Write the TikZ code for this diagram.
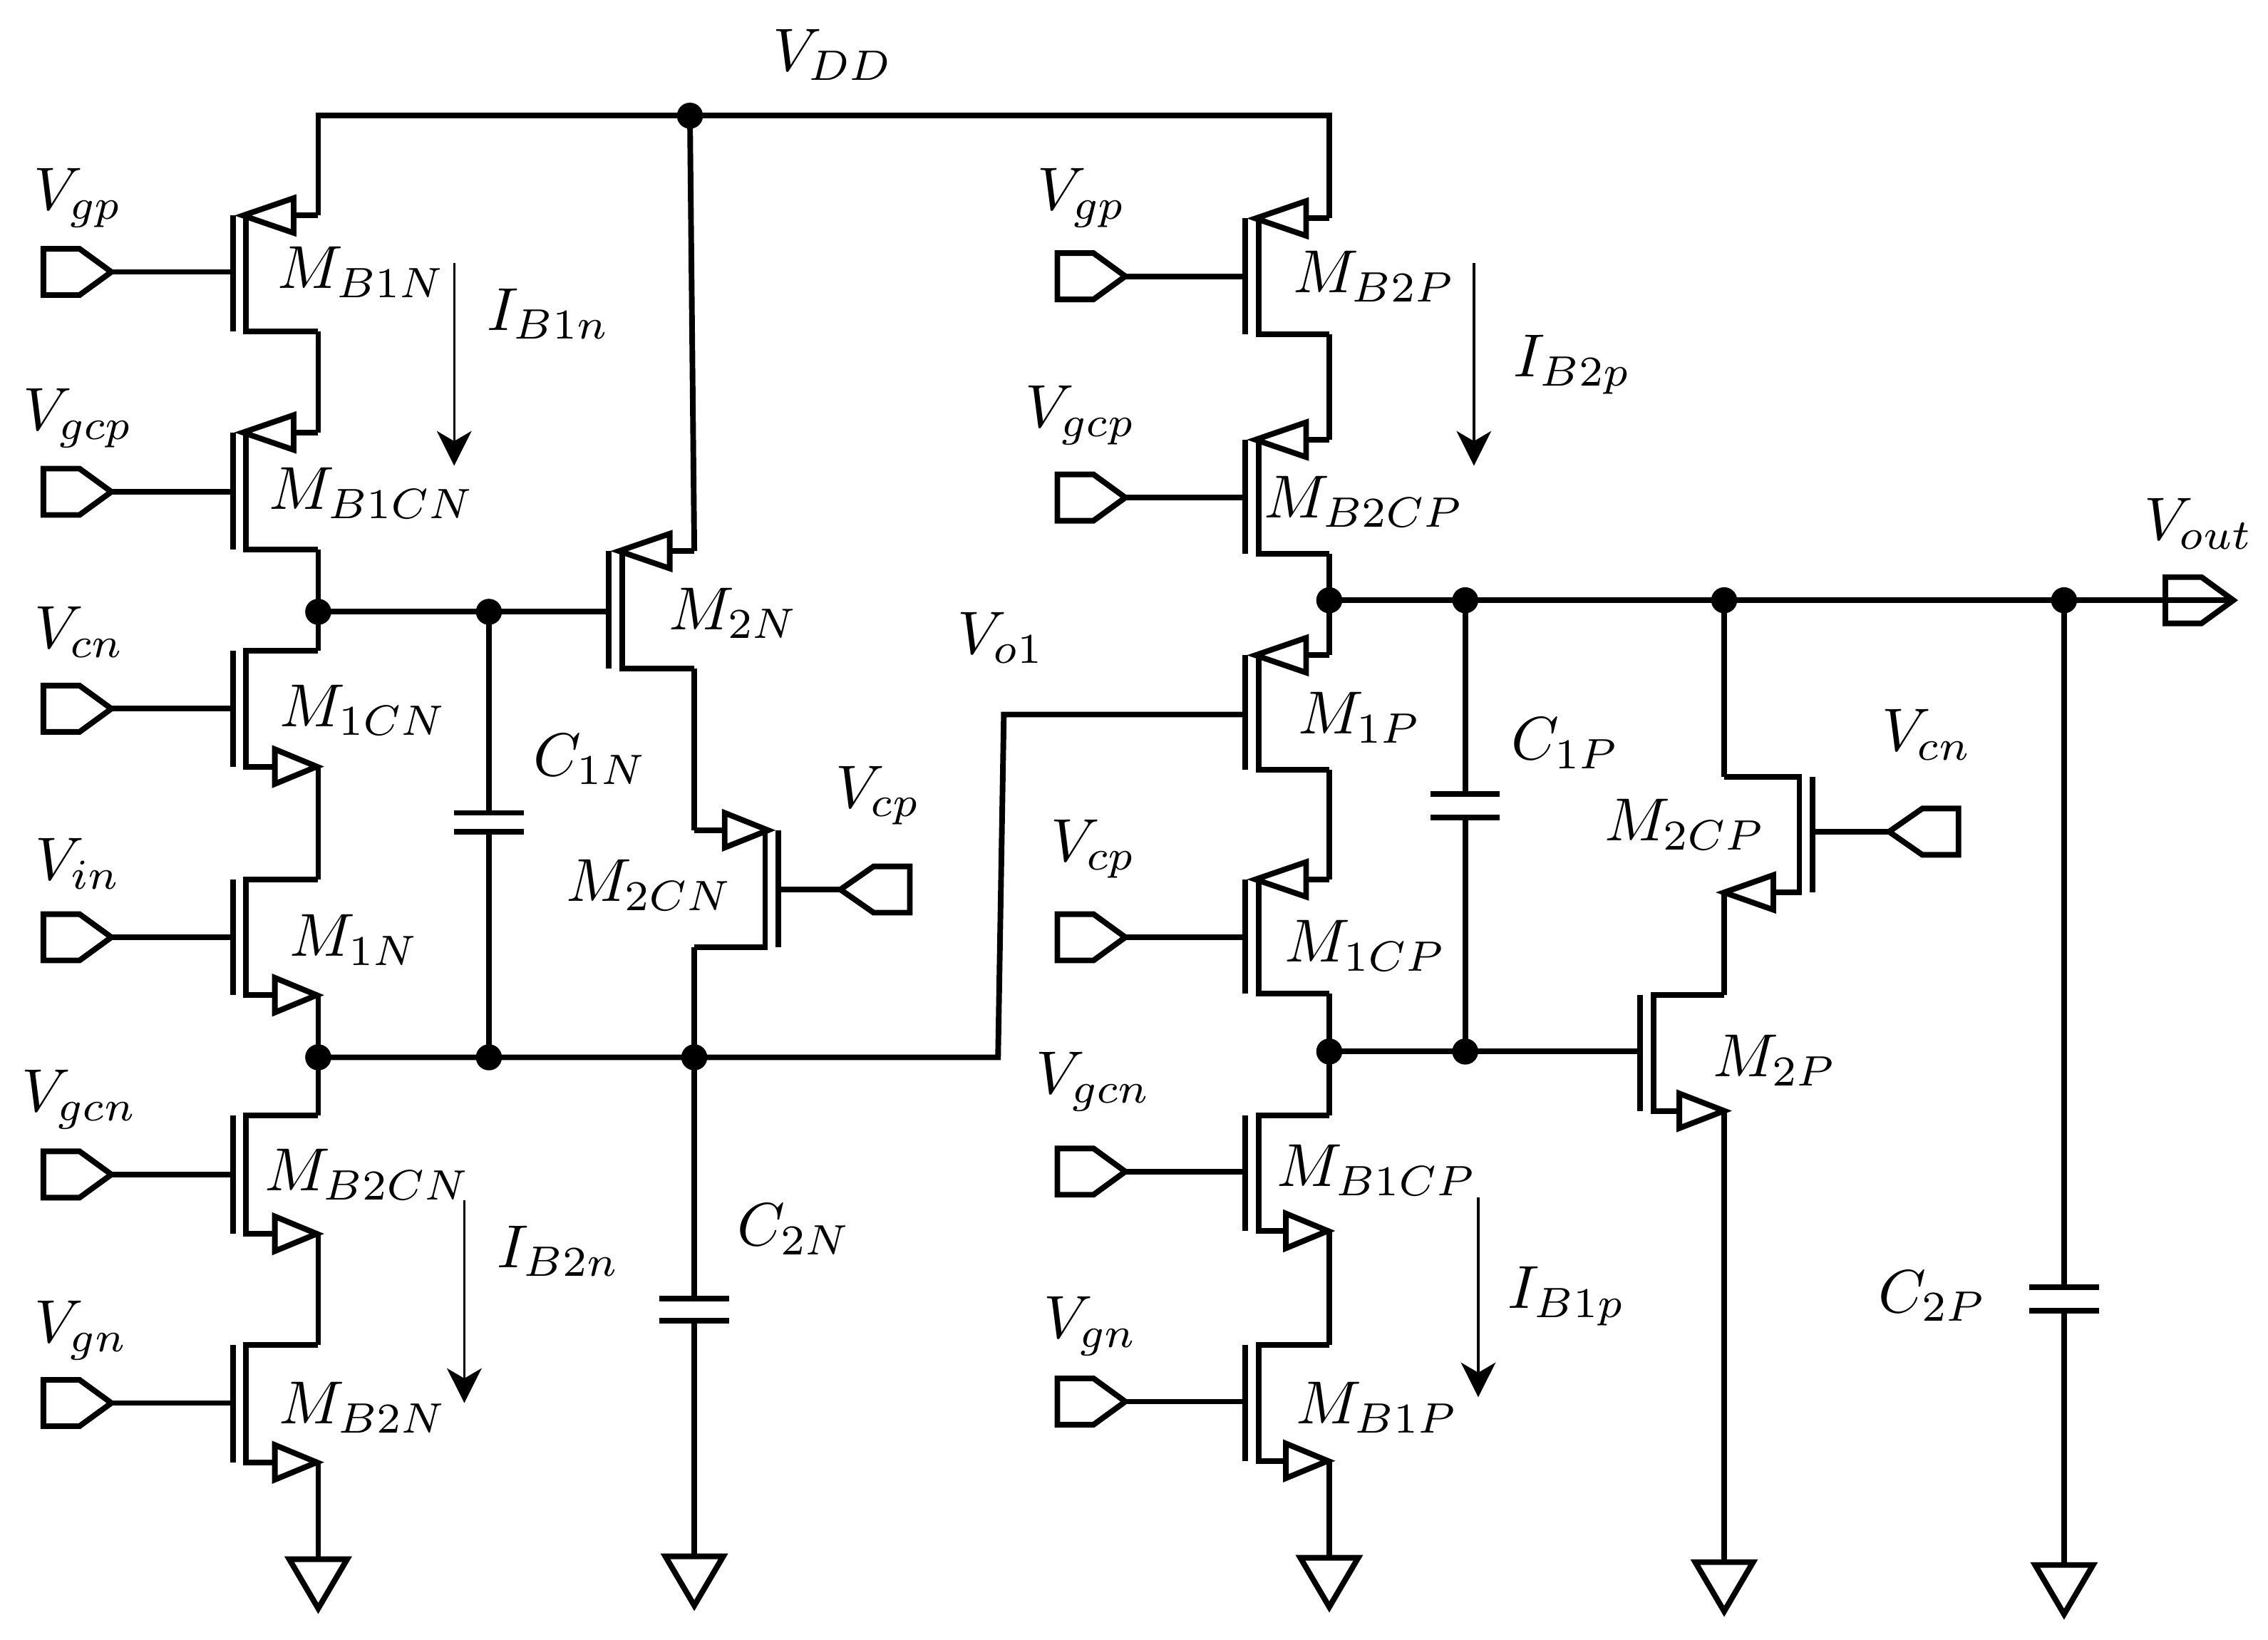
\documentclass[tikz,border=0pt]{standalone}
\usetikzlibrary{arrows.meta}
\tikzset{
  x=1pt,y=-1pt,
  wire/.style={line width=3.9pt,line join=miter,line cap=butt,draw=black},
  tri/.style={line width=3.9pt,line join=miter,draw=black,fill=white},
  dot/.style={circle,fill=black,inner sep=0pt,minimum size=18pt},
  lab/.style={scale=4.2,inner sep=0pt,xshift=0.5pt},
  cur/.style={line width=1.6pt,-{Stealth[length=24pt,width=24pt,inset=7pt]}}
}
% name, bar x, channel x, wire x, top y, bottom y, gate y
\newcommand{\fetbody}[7]{%
  \coordinate (#1-d) at (#4,#5);
  \coordinate (#1-s) at (#4,#6);
  \coordinate (#1-g) at (#2,#7);
  \draw[wire] (#2,#5) -- (#2,#6);
  \draw[wire] (#4,#5) -- (#3,#5) -- (#3,#6) -- (#4,#6);
}
% tip x, base x, y
\newcommand{\fetarrow}[3]{\draw[tri] (#1,#3) -- (#2,#3-12) -- (#2,#3+12) -- cycle;}
% pin pointing right: name, left x, y ; tip at left x + 47
\newcommand{\pinright}[3]{%
  \coordinate (#1) at (#2+47,#3);
  \draw[tri] (#2,#3-16) -- (#2+25,#3-16) -- (#2+47,#3) -- (#2+25,#3+16) -- (#2,#3+16) -- cycle;
}
% pin pointing left: name, tip x, y
\newcommand{\pinleft}[3]{%
  \coordinate (#1) at (#2,#3);
  \draw[tri] (#2,#3) -- (#2+23,#3-16) -- (#2+48,#3-16) -- (#2+48,#3+16) -- (#2+23,#3+16) -- cycle;
}
% capacitor: name, x, y1, y2
\newcommand{\capac}[4]{%
  \coordinate (#1-t) at (#2,#3);
  \coordinate (#1-b) at (#2,#4);
  \draw[wire] (#2-24,#3) -- (#2+24,#3);
  \draw[wire] (#2-24,#4) -- (#2+24,#4);
}
% ground: name, x, y
\newcommand{\gndsym}[3]{%
  \coordinate (#1) at (#2,#3);
  \draw[tri] (#2-20,#3) -- (#2+20,#3) -- (#2,#3+34) -- cycle;
}
\begin{document}
\begin{tikzpicture}
\useasboundingbox (0,0) rectangle (1568,1133.4);
% junctions
\node[dot] (vdd) at (477,80) {};
\node[dot] (a1) at (220,423) {};
\node[dot] (a2) at (338,423) {};
\node[dot] (b1) at (220,731) {};
\node[dot] (b2) at (338,731) {};
\node[dot] (b3) at (480,731) {};
\node[dot] (o1) at (919,415) {};
\node[dot] (o2) at (1013,415) {};
\node[dot] (o3) at (1192,415) {};
\node[dot] (o4) at (1427,415) {};
\node[dot] (c1) at (919,727) {};
\node[dot] (c2) at (1013,727) {};
\coordinate (tl) at (220,80);
\coordinate (tr) at (919,80);
\coordinate (k1) at (690,731);
\coordinate (k2) at (694,494);
% transistors
\fetbody{MBaN}{161}{170}{220}{149}{229}{188}\fetarrow{168}{203}{149}
\fetbody{MBaCN}{161}{170}{220}{299}{380}{340}\fetarrow{168}{203}{299}
\fetbody{MaCN}{161}{170}{220}{450}{530}{490}\fetarrow{219}{190}{530}
\fetbody{MaN}{161}{170}{220}{608}{688}{648}\fetarrow{219}{190}{688}
\fetbody{MBbCN}{161}{170}{220}{771}{853}{812}\fetarrow{219}{190}{853}
\fetbody{MBbN}{161}{170}{220}{930}{1011}{970}\fetarrow{219}{190}{1011}
\fetbody{MbN}{421}{430}{480}{381}{462}{423}\fetarrow{428}{463}{381}
\fetbody{MbCN}{538}{529}{480}{574}{655}{615}\fetarrow{531}{501}{574}
\fetbody{MBbP}{861}{870}{919}{151}{231}{191}\fetarrow{868}{903}{151}
\fetbody{MBbCP}{861}{870}{919}{304}{383}{344}\fetarrow{868}{903}{304}
\fetbody{MaP}{861}{870}{919}{453}{532}{494}\fetarrow{868}{903}{453}
\fetbody{MaCP}{861}{870}{919}{608}{687}{648}\fetarrow{868}{903}{608}
\fetbody{MBaCP}{861}{870}{919}{771}{851}{810}\fetarrow{918}{889}{851}
\fetbody{MBaP}{861}{870}{919}{930}{1010}{969}\fetarrow{918}{889}{1010}
\fetbody{MbCP}{1253}{1244}{1192}{537}{617}{575}\fetarrow{1192}{1226}{617}
\fetbody{MbP}{1134}{1143}{1192}{688}{768}{727}\fetarrow{1192}{1161}{768}
% pins
\pinright{pa}{30}{188}\pinright{pb}{30}{340}\pinright{pc}{30}{490}
\pinright{pd}{30}{648}\pinright{pe}{30}{812}\pinright{pf}{30}{970}
\pinright{qa}{731}{191}\pinright{qb}{731}{344}\pinright{qd}{731}{648}
\pinright{qe}{731}{810}\pinright{qf}{731}{969}
\pinleft{rcp}{581}{615}
\pinleft{rcn}{1306}{575}
\pinright{pout}{1497}{415}
% capacitors
\capac{Ca}{338}{562}{575}
\capac{Cb}{480}{898}{913}
\capac{Cc}{1013}{549}{565}
\capac{Cd}{1427}{890}{906}
% grounds
\gndsym{ga}{220}{1078}
\gndsym{gb}{480}{1076}
\gndsym{gc}{919}{1077}
\gndsym{gd}{1192}{1080}
\gndsym{ge}{1427}{1082}
% connectors
\draw[wire] (MBaN-d) -- (tl) -- (vdd.center) -- (tr) -- (MBbP-d);
\draw[wire] (vdd.center) -- (MbN-d);
\draw[wire] (MBaN-s) -- (MBaCN-d);
\draw[wire] (MBaCN-s) -- (a1.center) -- (MaCN-d);
\draw[wire] (MaCN-s) -- (MaN-d);
\draw[wire] (MaN-s) -- (b1.center) -- (MBbCN-d);
\draw[wire] (MBbCN-s) -- (MBbN-d);
\draw[wire] (MBbN-s) -- (ga);
\draw[wire] (a1.center) -- (a2.center) -- (MbN-g);
\draw[wire] (a2.center) -- (Ca-t);
\draw[wire] (Ca-b) -- (b2.center);
\draw[wire] (b1.center) -- (b2.center) -- (b3.center) -- (k1) -- (k2) -- (MaP-g);
\draw[wire] (MbN-s) -- (MbCN-d);
\draw[wire] (MbCN-s) -- (b3.center) -- (Cb-t);
\draw[wire] (Cb-b) -- (gb);
\draw[wire] (MBbP-s) -- (MBbCP-d);
\draw[wire] (MBbCP-s) -- (o1.center) -- (MaP-d);
\draw[wire] (MaP-s) -- (MaCP-d);
\draw[wire] (MaCP-s) -- (c1.center) -- (MBaCP-d);
\draw[wire] (MBaCP-s) -- (MBaP-d);
\draw[wire] (MBaP-s) -- (gc);
\draw[wire] (o1.center) -- (o2.center) -- (o3.center) -- (o4.center) -- (pout);
\draw[wire] (o2.center) -- (Cc-t);
\draw[wire] (Cc-b) -- (c2.center);
\draw[wire] (c1.center) -- (c2.center) -- (MbP-g);
\draw[wire] (o3.center) -- (MbCP-d);
\draw[wire] (MbCP-s) -- (MbP-d);
\draw[wire] (MbP-s) -- (gd);
\draw[wire] (o4.center) -- (Cd-t);
\draw[wire] (Cd-b) -- (ge);
\foreach \p/\g in {pa/MBaN,pb/MBaCN,pc/MaCN,pd/MaN,pe/MBbCN,pf/MBbN,qa/MBbP,qb/MBbCP,qd/MaCP,qe/MBaCP,qf/MBaP,rcp/MbCN,rcn/MbCP}
  \draw[wire] (\p) -- (\g-g);
% current arrows
\coordinate (ia1) at (314,182); \coordinate (ia2) at (314,322);
\coordinate (ib1) at (321,830); \coordinate (ib2) at (321,970);
\coordinate (ic1) at (1019,182); \coordinate (ic2) at (1019,322);
\coordinate (id1) at (1022,828); \coordinate (id2) at (1022,966);
\draw[cur] (ia1) -- (ia2);
\draw[cur] (ib1) -- (ib2);
\draw[cur] (ic1) -- (ic2);
\draw[cur] (id1) -- (id2);
% labels
\node[lab] (l1) at (574,38) {$V_{DD}$};
\node[lab] (l2) at (52,137) {$V_{gp}$};
\node[lab] (l3) at (52,289) {$V_{gcp}$};
\node[lab] (l4) at (53,437) {$V_{cn}$};
\node[lab] (l5) at (52,597) {$V_{in}$};
\node[lab] (l6) at (53,760) {$V_{gcn}$};
\node[lab] (l7) at (54,920) {$V_{gn}$};
\node[lab] (l8) at (248,188) {$M_{B1N}$};
\node[lab] (l9) at (255,341) {$M_{B1CN}$};
\node[lab] (l10) at (249,491) {$M_{1CN}$};
\node[lab] (l11) at (243,650) {$M_{1N}$};
\node[lab] (l12) at (252,812) {$M_{B2CN}$};
\node[lab] (l13) at (249,973) {$M_{B2N}$};
\node[lab] (l14) at (377,217) {$I_{B1n}$};
\node[lab] (l15) at (384,865) {$I_{B2n}$};
\node[lab] (l16) at (406,525) {$C_{1N}$};
\node[lab] (l17) at (547,850) {$C_{2N}$};
\node[lab] (l18) at (505,424) {$M_{2N}$};
\node[lab] (l19) at (605,550) {$V_{cp}$};
\node[lab] (l20) at (447,612) {$M_{2CN}$};
\node[lab] (l21) at (746,137) {$V_{gp}$};
\node[lab] (l22) at (745,287) {$V_{gcp}$};
\node[lab] (l23) at (754,587) {$V_{cp}$};
\node[lab] (l24) at (754,748) {$V_{gcn}$};
\node[lab] (l25) at (752,917) {$V_{gn}$};
\node[lab] (l26) at (948,191) {$M_{B2P}$};
\node[lab] (l27) at (941,347) {$M_{B2CP}$};
\node[lab] (l28) at (938,496) {$M_{1P}$};
\node[lab] (l29) at (942,654) {$M_{1CP}$};
\node[lab] (l30) at (950,809) {$M_{B1CP}$};
\node[lab] (l31) at (950,973) {$M_{B1P}$};
\node[lab] (l32) at (1085,252) {$I_{B2p}$};
\node[lab] (l33) at (1081,896) {$I_{B1p}$};
\node[lab] (l34) at (1080,514) {$C_{1P}$};
\node[lab] (l35) at (1163,570) {$M_{2CP}$};
\node[lab] (l36) at (1330,508) {$V_{cn}$};
\node[lab] (l37) at (1225,733) {$M_{2P}$};
\node[lab] (l38) at (1334,896) {$C_{2P}$};
\node[lab] (l39) at (1518,362) {$V_{out}$};
\node[lab] (l40) at (690,441) {$V_{o1}$};
\end{tikzpicture}
\end{document}
